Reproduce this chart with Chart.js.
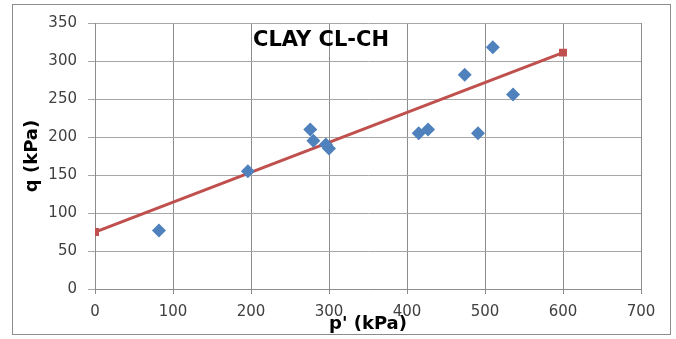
<!DOCTYPE html>
<html>
<head>
<meta charset="utf-8">
<script src="https://cdn.jsdelivr.net/npm/chart.js@4.4.1/dist/chart.umd.min.js"></script>
<style>
    html, body { margin: 0; padding: 0; background: #fff; }
    #wrap { width: 676px; height: 339px; position: relative; }
</style>
</head>
<body>
<div id="wrap"><canvas id="chart"></canvas></div>
<script>
// mesures p' / q
const pValues = [82, 196, 276, 280, 296, 300, 415, 427, 474, 491, 510, 536];
const qValues = [77, 155, 210, 195, 190, 185, 205, 210, 282, 205, 318, 256];

// droite de rupture
const lineP = [0, 600];
const lineQ = [75, 311];

const xTicks = [0, 100, 200, 300, 400, 500, 600, 700];
const yTicks = [0, 50, 100, 150, 200, 250, 300, 350];

const chartTitle = 'CLAY CL-CH';
const xTitle = "p' (kPa)";
const yTitle = 'q (kPa)';

const points = pValues.map((p, i) => ({ x: p, y: qValues[i] }));
const linePoints = lineP.map((p, i) => ({ x: p, y: lineQ[i] }));

const FONT = '"DejaVu Sans", "Liberation Sans", sans-serif';

// cadre gris + titre dans la zone du graphique
const decor = {
    id: 'decor',
    afterDraw(chart) {
        const ctx = chart.ctx;
        ctx.save();
        ctx.strokeStyle = '#8c8c8c';
        ctx.lineWidth = 1;
        ctx.strokeRect(12.5, 4.5, 658, 330);
        ctx.fillStyle = '#000';
        ctx.font = 'bold 21px ' + FONT;
        ctx.textAlign = 'center';
        ctx.textBaseline = 'middle';
        ctx.fillText(chartTitle, 321, 41);
        ctx.restore();
    }
};

new Chart(document.getElementById('chart'), {
    type: 'scatter',
    data: {
        datasets: [
            {
                data: points,
                pointStyle: 'rectRot',
                pointRadius: 7,
                pointHoverRadius: 7,
                backgroundColor: '#4f81bd',
                borderWidth: 0,
                order: 1
            },
            {
                data: linePoints,
                showLine: true,
                pointStyle: 'rect',
                pointRadius: 3.5,
                backgroundColor: '#c0504d',
                borderColor: '#c0504d',
                borderWidth: 3,
                order: 2
            }
        ]
    },
    options: {
        responsive: true,
        maintainAspectRatio: false,
        animation: false,
        layout: { padding: { left: 14, right: 35, top: 23, bottom: 0 } },
        plugins: {
            legend: { display: false },
            tooltip: { enabled: false }
        },
        scales: {
            x: {
                type: 'linear',
                min: 0,
                max: 700,
                afterBuildTicks(scale) { scale.ticks = xTicks.map(v => ({ value: v })); },
                afterFit(scale) { scale.height = 50; },
                grid: { color: '#8c8c8c', tickLength: 5, drawTicks: true },
                border: { color: '#8c8c8c' },
                ticks: {
                    color: '#404040',
                    font: { family: FONT, size: 15 },
                    padding: 9,
                    maxRotation: 0
                },
                title: {
                    display: true,
                    text: xTitle,
                    color: '#000',
                    font: { family: FONT, size: 18, weight: 'bold' },
                    padding: { top: 0, bottom: 4 }
                }
            },
            y: {
                type: 'linear',
                min: 0,
                max: 350,
                afterBuildTicks(scale) { scale.ticks = yTicks.map(v => ({ value: v })); },
                afterFit(scale) { scale.width = 81; },
                grid: { color: '#a6a6a6', tickLength: 7 },
                border: { color: '#8c8c8c' },
                ticks: {
                    color: '#404040',
                    font: { family: FONT, size: 15 },
                    padding: 11
                },
                title: {
                    display: true,
                    text: yTitle,
                    color: '#000',
                    font: { family: FONT, size: 18, weight: 'bold' },
                    padding: { top: 8, bottom: 0 }
                }
            }
        }
    },
    plugins: [decor]
});
</script>
</body>
</html>
